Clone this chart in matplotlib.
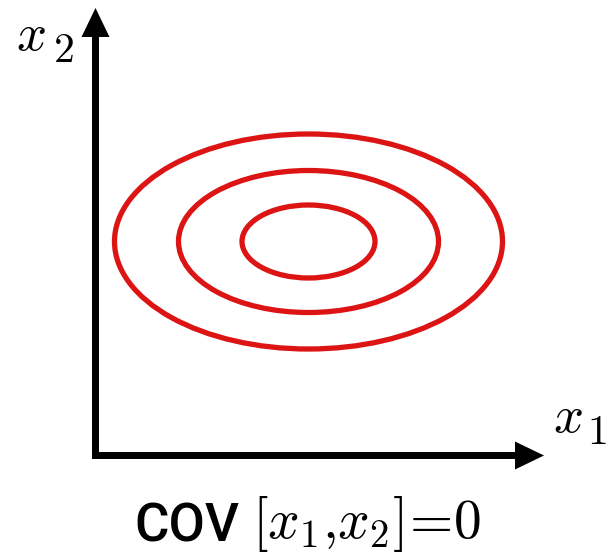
import matplotlib
matplotlib.use('Agg')
from matplotlib import pyplot as plt
from matplotlib.patches import Ellipse

plt.rcParams['mathtext.fontset'] = 'cm'

# contour ellipses (pixel units), centre and full widths / heights
center = (308.5, 241.5)
widths = [388, 260, 133]
heights = [215, 142, 73]

# axis arrows: start point and tip
x_axis = ((92, 455.5), (544, 455.5))
y_axis = ((95.5, 459), (95.5, 8))

fig = plt.figure(figsize=(6.13, 5.54), dpi=100)
ax = fig.add_axes([0, 0, 1, 1])
ax.set_xlim(0, 613)
ax.set_ylim(554, 0)
ax.axis('off')

for w, h in zip(widths, heights):
    ax.add_patch(Ellipse(center, w, h, fill=False, edgecolor='#dc1414', lw=3.8))

for (x0, y0), (x1, y1) in (x_axis, y_axis):
    ax.arrow(x0, y0, x1 - x0, y1 - y0, width=7, head_width=28, head_length=29,
             length_includes_head=True, color='black', lw=0)

# axis labels, variable and index drawn separately
ax.text(16, 50, r'$x$', fontsize=38, ha='left', va='baseline')
ax.text(53, 62, r'$2$', fontsize=30, ha='left', va='baseline')
ax.text(553, 432, r'$x$', fontsize=38, ha='left', va='baseline')
ax.text(587, 444, r'$1$', fontsize=30, ha='left', va='baseline')

ax.text(239, 542, 'COV', fontsize=38, family='Roboto', weight='medium',
        ha='right', va='baseline')
ax.text(252, 538, r'$[x_1{,}x_2]\!=\!0$', fontsize=40, ha='left', va='baseline')

fig.savefig('out.png', dpi=100)
